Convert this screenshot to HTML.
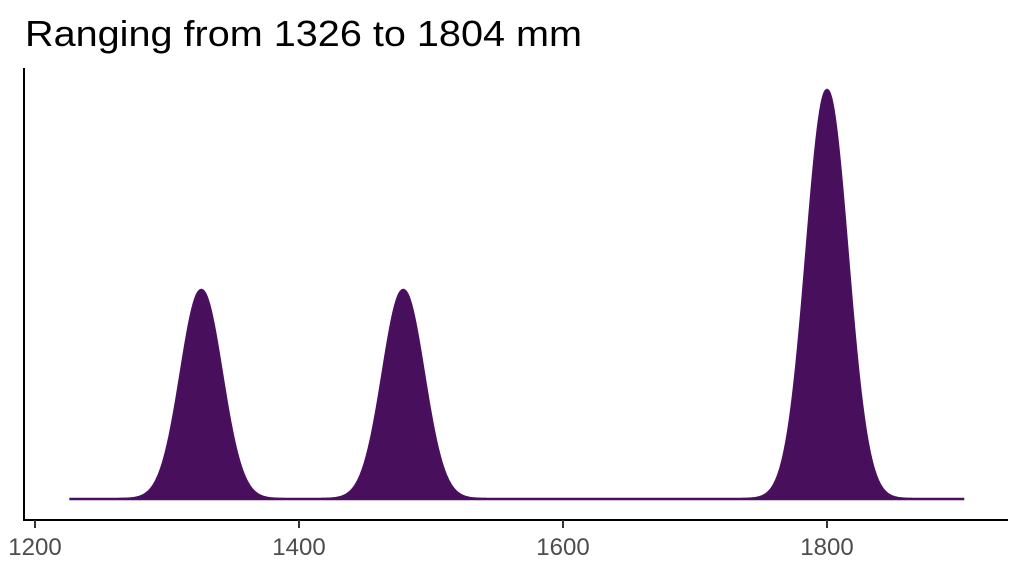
<!DOCTYPE html>
<html><head><meta charset="utf-8"><style>body{margin:0;background:#fff}svg{display:block}</style></head>
<body>
<svg id="s" width="1024" height="576" xmlns="http://www.w3.org/2000/svg" font-family="Liberation Sans, sans-serif">
<text x="25" y="46" font-size="36" textLength="557" lengthAdjust="spacingAndGlyphs" fill="#000">Ranging from 1326 to 1804 mm</text>
<path id="d" fill="#470F5C" stroke="#4B0F60" stroke-width="2.5"/>
<line x1="24" y1="68" x2="24" y2="521" stroke="#000" stroke-width="2"/>
<line x1="23" y1="520" x2="1008" y2="520" stroke="#000" stroke-width="2"/>
<g stroke="#333" stroke-width="2"><line x1="35" y1="520" x2="35" y2="528"/><line x1="299" y1="520" x2="299" y2="528"/><line x1="563" y1="520" x2="563" y2="528"/><line x1="827" y1="520" x2="827" y2="528"/></g>
<g font-size="24" fill="#4D4D4D" text-anchor="middle"><text x="35" y="555">1200</text><text x="299" y="555">1400</text><text x="563" y="555">1600</text><text x="827" y="555">1800</text></g>
</svg>
<script>
var sd=15.5,base=499,pk=[[1326,209],[1479,209],[1800,409]];
function X(v){return 35+(v-1200)*1.32}
var p="M"+X(1226)+","+base;
for(var v=1226;v<=1904;v+=1){var y=0;pk.forEach(function(q){y+=q[1]*Math.exp(-0.5*Math.pow((v-q[0])/sd,2))});p+=" L"+X(v).toFixed(2)+","+(base-y).toFixed(2);}
p+=" L"+X(1904)+","+base+" Z";
document.getElementById("d").setAttribute("d",p);
</script>
</body></html>
